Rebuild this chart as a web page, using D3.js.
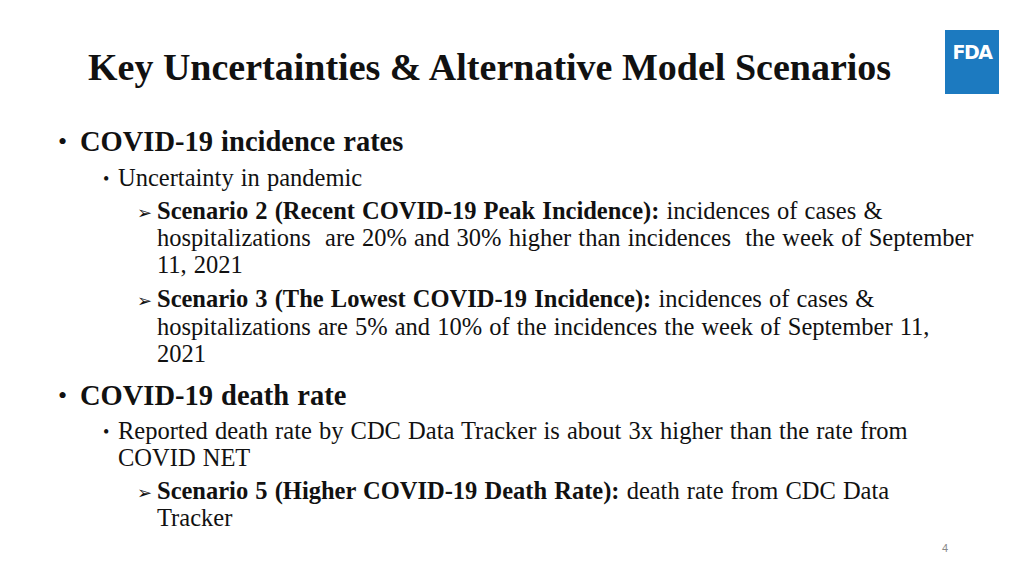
<!DOCTYPE html>
<html><head><meta charset="utf-8">
<script src="https://cdn.jsdelivr.net/npm/d3@7"></script>
<style>body{margin:0;background:#fff}</style>
</head><body>
<svg id="slide" width="1024" height="576"></svg>
<script>
// Slide content: each line is [level, baselineY, bulletMark, segments]
const titleText = "Key Uncertainties & Alternative Model Scenarios";
const pageNumber = "4";
const lines = [
  [1, 151, "•", [["COVID-19 incidence rates", true]]],
  [2, 186, "•", [["Uncertainty in pandemic", false]]],
  [3, 219, "➢", [["Scenario 2 (Recent COVID-19 Peak Incidence):", true], [" incidences of cases &", false]]],
  [3, 246, "", [["hospitalizations  are 20% and 30% higher than incidences  the week of September", false]]],
  [3, 273, "", [["11, 2021", false]]],
  [3, 307, "➢", [["Scenario 3 (The Lowest COVID-19 Incidence):", true], [" incidences of cases &", false]]],
  [3, 335, "", [["hospitalizations are 5% and 10% of the incidences the week of September 11,", false]]],
  [3, 362, "", [["2021", false]]],
  [1, 405, "•", [["COVID-19 death rate", true]]],
  [2, 439, "•", [["Reported death rate by CDC Data Tracker is about 3x higher than the rate from", false]]],
  [2, 466, "", [["COVID NET", false]]],
  [3, 499, "➢", [["Scenario 5 (Higher COVID-19 Death Rate):", true], [" death rate from CDC Data", false]]],
  [3, 526, "", [["Tracker", false]]]
];

const levelStyle = {
  1: {bx: 58, tx: 80, size: 28.5, bsize: 26},
  2: {bx: 103, tx: 118, size: 24.5, bsize: 18},
  3: {bx: 137, tx: 157, size: 24.5, bsize: 18}
};

const svg = d3.select("#slide");
const serif = "'Liberation Serif', 'Times New Roman', serif";

svg.append("text")
  .attr("x", 88).attr("y", 80)
  .attr("font-family", serif).attr("font-weight", "bold")
  .attr("font-size", 38).attr("fill", "#111")
  .text(titleText);

// FDA logo
const logo = svg.append("g").attr("transform", "translate(945,30)");
logo.append("rect").attr("width", 54).attr("height", 64).attr("fill", "#1c7ac0");
logo.append("text").attr("x", 27).attr("y", 29).attr("text-anchor", "middle")
  .attr("font-family", "'DejaVu Sans', sans-serif").attr("font-weight", "bold")
  .attr("font-size", 19).attr("fill", "#fff").attr("letter-spacing", -1.5).text("FDA");

const rows = svg.selectAll("g.row").data(lines).enter().append("g").attr("class", "row");

rows.filter(d => d[2]).append("text")
  .attr("x", d => levelStyle[d[0]].bx)
  .attr("y", d => d[1] - (d[2] === "•" ? 1 : 0))
  .attr("font-family", d => d[2] === "•" ? serif : "'DejaVu Sans', sans-serif")
  .attr("font-size", d => levelStyle[d[0]].bsize)
  .attr("fill", "#111")
  .text(d => d[2]);

const t = rows.append("text")
  .attr("x", d => levelStyle[d[0]].tx)
  .attr("y", d => d[1])
  .attr("font-family", serif)
  .attr("font-size", d => levelStyle[d[0]].size)
  .attr("word-spacing", 1)
  .attr("fill", "#111")
  .attr("xml:space", "preserve");
t.selectAll("tspan").data(d => d[3]).enter().append("tspan")
  .attr("font-weight", s => s[1] ? "bold" : "normal")
  .text(s => s[0]);

svg.append("text").attr("x", 945).attr("y", 552).attr("text-anchor", "middle")
  .attr("font-family", "'Liberation Sans', sans-serif").attr("font-size", 11)
  .attr("fill", "#888").text(pageNumber);
</script>
</body></html>
